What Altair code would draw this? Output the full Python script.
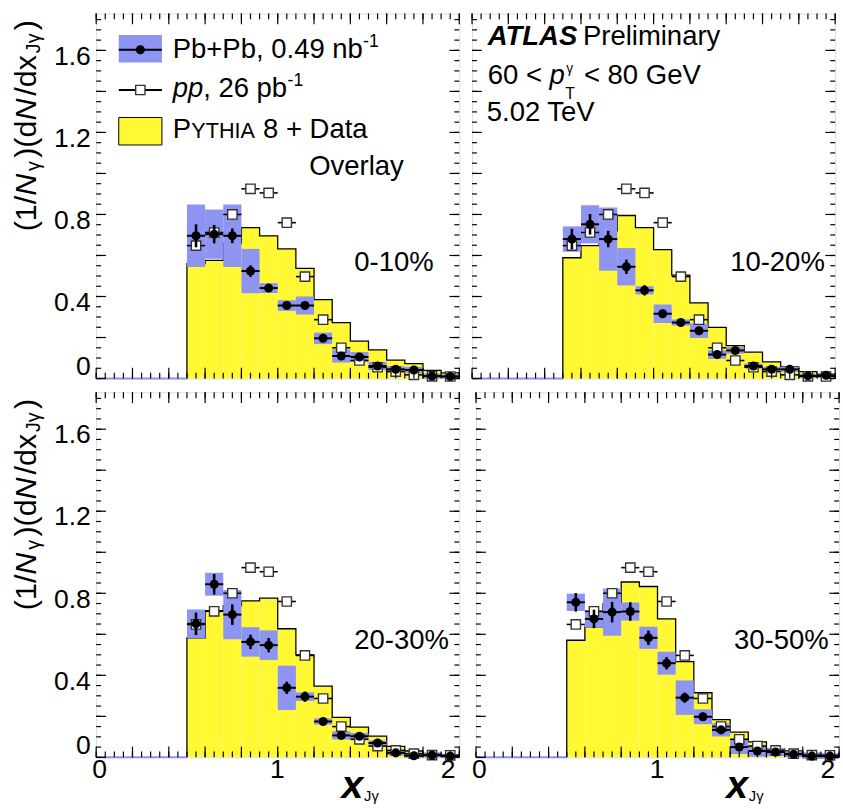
import altair as alt
import pandas as pd

FONT = "Liberation Sans"
YELLOW = "#FFF833"
BLUE = "#8E94F2"

# x_Jgamma binning (bin lower edges, width 0.1)
bin_lo = [0.5, 0.6, 0.7, 0.8, 0.9, 1.0, 1.1, 1.2, 1.3, 1.4, 1.5, 1.6, 1.7, 1.8, 1.9]
bin_width = 0.1

# pp reference, 26 pb^-1
pp_vals = [0.648, 0.712, 0.800, 0.925, 0.905, 0.760, 0.497, 0.287, 0.150, 0.088, 0.055, 0.034, 0.018, 0.011, 0.010]
pp_stat = [0.012, 0.012, 0.012, 0.014, 0.014, 0.012, 0.010, 0.008, 0.006, 0.005, 0.004, 0.003, 0.003, 0.002, 0.002]

# PYTHIA 8 + data overlay
pythia_0_10 = [0.560, 0.576, 0.660, 0.736, 0.696, 0.632, 0.537, 0.385, 0.273, 0.182, 0.140, 0.090, 0.073, 0.040, 0.028]
pythia_10_20 = [0.589, 0.648, 0.720, 0.795, 0.736, 0.629, 0.504, 0.369, 0.249, 0.161, 0.129, 0.081, 0.057, 0.034, 0.022]
pythia_20_30 = [0.583, 0.715, 0.740, 0.763, 0.776, 0.627, 0.500, 0.347, 0.195, 0.147, 0.103, 0.054, 0.031, 0.019, 0.010]
pythia_30_50 = [0.571, 0.636, 0.750, 0.855, 0.833, 0.675, 0.467, 0.315, 0.184, 0.123, 0.075, 0.042, 0.031, 0.019, 0.010]

# Pb+Pb, 0.49 nb^-1: value, statistical and systematic uncertainties
pbpb_0_10 = [0.696, 0.704, 0.696, 0.524, 0.441, 0.356, 0.356, 0.196, 0.110, 0.105, 0.061, 0.045, 0.042, 0.012, 0.010]
stat_0_10 = [0.056, 0.045, 0.036, 0.028, 0.018, 0.015, 0.018, 0.015, 0.015, 0.012, 0.012, 0.010, 0.010, 0.008, 0.008]
syst_0_10 = [0.152, 0.120, 0.152, 0.108, 0.024, 0.026, 0.044, 0.028, 0.032, 0.024, 0.020, 0.015, 0.015, 0.012, 0.010]

pbpb_10_20 = [0.680, 0.752, 0.680, 0.545, 0.430, 0.316, 0.273, 0.233, 0.117, 0.137, 0.061, 0.045, 0.045, 0.013, 0.016]
stat_10_20 = [0.050, 0.050, 0.040, 0.035, 0.025, 0.020, 0.020, 0.018, 0.015, 0.015, 0.012, 0.010, 0.010, 0.008, 0.008]
syst_10_20 = [0.062, 0.093, 0.154, 0.091, 0.020, 0.045, 0.015, 0.035, 0.021, 0.016, 0.012, 0.012, 0.012, 0.010, 0.010]

pbpb_20_30 = [0.651, 0.844, 0.696, 0.563, 0.547, 0.339, 0.296, 0.175, 0.107, 0.103, 0.070, 0.022, 0.008, 0.010, 0.006]
stat_20_30 = [0.055, 0.050, 0.050, 0.035, 0.035, 0.030, 0.025, 0.015, 0.015, 0.015, 0.012, 0.010, 0.010, 0.008, 0.008]
syst_20_30 = [0.070, 0.056, 0.120, 0.072, 0.072, 0.108, 0.021, 0.015, 0.020, 0.016, 0.012, 0.012, 0.010, 0.010, 0.010]

pbpb_30_50 = [0.756, 0.675, 0.708, 0.711, 0.583, 0.459, 0.291, 0.198, 0.134, 0.050, 0.031, 0.026, 0.015, 0.006, 0.006]
stat_30_50 = [0.045, 0.045, 0.050, 0.045, 0.035, 0.030, 0.025, 0.020, 0.015, 0.012, 0.010, 0.010, 0.008, 0.008, 0.008]
syst_30_50 = [0.042, 0.042, 0.115, 0.044, 0.054, 0.056, 0.084, 0.036, 0.032, 0.034, 0.028, 0.020, 0.014, 0.014, 0.014]

# axis labels and tick marks
x_labels_mid = [1]
x_labels_low = [0]
x_labels_high = [2]
y_labels_main = [0.4, 0.8, 1.2, 1.6]
y_labels_low = [0]
x_ticks_fine = [round(i * 0.05, 2) for i in range(41)]
x_ticks_coarse = [round(i * 0.2, 2) for i in range(11)]
y_ticks_fine = [round(i * 0.05, 2) for i in range(36)]
y_ticks_coarse = [round(i * 0.2, 2) for i in range(9)]

W, H = 370, 372
X_DOMAIN = [0, 2]
Y_DOMAIN = [0, 1.78]
LABEL_SIZE = 27

xs = alt.Scale(domain=X_DOMAIN, nice=False, zero=False)
ys = alt.Scale(domain=Y_DOMAIN, nice=False, zero=False)
one_row = pd.DataFrame({"k": [0]})

# approximate advance widths (em) used to chain the rotated title pieces
CHAR_W = {"(": 0.333, ")": 0.333, "1": 0.556, "/": 0.278, "N": 0.722,
          "d": 0.556, "x": 0.5, "J": 0.5, "γ": 0.52}


def txt(s, x, y, size=28, style="normal", weight="normal", angle=0, align="left"):
    return alt.Chart(pd.DataFrame({"s": [s]})).mark_text(
        font=FONT, fontSize=size, fontStyle=style, fontWeight=weight,
        angle=angle, align=align, baseline="alphabetic", color="black",
    ).encode(x=alt.value(x), y=alt.value(y), text="s:N")


def rect(x0, x1, y0, y1, fill, outline=False):
    kw = dict(fill=fill, opacity=1)
    if outline:
        kw.update(stroke="black", strokeWidth=1)
    return alt.Chart(one_row).mark_rect(**kw).encode(
        x=alt.value(x0), x2=alt.value(x1), y=alt.value(y0), y2=alt.value(y1))


def hline(x0, x1, y, width=2):
    return alt.Chart(one_row).mark_rule(color="black", strokeWidth=width).encode(
        x=alt.value(x0), x2=alt.value(x1), y=alt.value(y))


def x_axis(values, offset):
    return alt.Axis(
        values=values, format="d", title=None, grid=False, domain=False, orient="bottom",
        ticks=False, tickSize=0, labelFont=FONT, labelFontSize=LABEL_SIZE, labelColor="black",
        labelPadding=0, labelFlush=False, labelOffset=offset,
    )


def y_axis(values, offset):
    return alt.Axis(
        values=values, title=None, grid=False, domain=False, orient="left",
        ticks=False, tickSize=0, labelFont=FONT, labelFontSize=LABEL_SIZE, labelColor="black",
        labelPadding=6, labelFlush=False, labelOffset=offset,
        labelExpr="datum.value == 0 ? '0' : format(datum.value, '.1f')",
    )


def tick_layers(bottom_len=11, bottom_len_fine=6, side_len=10, side_len_fine=5):
    layers = []
    for vals, n in ((x_ticks_fine, bottom_len_fine), (x_ticks_coarse, bottom_len)):
        d = alt.Chart(pd.DataFrame({"t": vals}))
        xe = alt.X("t:Q", scale=xs, axis=None)
        layers.append(d.mark_rule(color="black", strokeWidth=1.2).encode(
            x=xe, y=alt.value(H), y2=alt.value(H - n)))
        layers.append(d.mark_rule(color="black", strokeWidth=1.2).encode(
            x=xe, y=alt.value(0), y2=alt.value(n)))
    for vals, n in ((y_ticks_fine, side_len_fine), (y_ticks_coarse, side_len)):
        d = alt.Chart(pd.DataFrame({"t": vals}))
        ye = alt.Y("t:Q", scale=ys, axis=None)
        layers.append(d.mark_rule(color="black", strokeWidth=1.2).encode(
            y=ye, x=alt.value(0), x2=alt.value(n)))
        layers.append(d.mark_rule(color="black", strokeWidth=1.2).encode(
            y=ye, x=alt.value(W), x2=alt.value(W - n)))
    return layers


def y_title(start=222):
    # (1/N_gamma)(dN/dx_Jgamma), read bottom to top
    F, S = 31, 20
    base_x, sub_x = -61, -57
    parts = [("(1/", F, "normal", 0), ("N", F, "italic", 3), ("γ", S, "normal", 3),
             (")(d", F, "normal", 0), ("N", F, "italic", 3), ("/d", F, "normal", 0),
             ("x", F, "normal", 2), ("Jγ", S, "normal", 3), (")", F, "normal", 0)]
    out, y = [], start
    for s, size, st, gap in parts:
        out.append(txt(s, sub_x if size == S else base_x, y, size=size, style=st, angle=270))
        y -= sum(CHAR_W[c] for c in s) * size + gap
    return out


def x_title(x0):
    return [
        txt("x", x0, 413, size=40, style="italic", weight="bold"),
        txt("Jγ", x0 + 23, 416, size=15),
    ]


def panel(cent, pythia, pbpb, stat, syst, bottom, left, extra):
    hi = [round(v + bin_width, 2) for v in bin_lo]
    mid = [round(v + bin_width / 2, 3) for v in bin_lo]
    df = pd.DataFrame({
        "lo": bin_lo, "hi": hi, "mid": mid, "py": pythia,
        "pb": pbpb, "stat": stat, "syst": syst, "pp": pp_vals, "ppstat": pp_stat,
    })
    df["box_lo"] = df["pb"] - df["syst"]
    df["box_hi"] = df["pb"] + df["syst"]
    df["err_lo"] = df["pb"] - df["stat"]
    df["err_hi"] = df["pb"] + df["stat"]
    df["pp_lo"] = df["pp"] - df["ppstat"]
    df["pp_hi"] = df["pp"] + df["ppstat"]

    def X(f, axis=None):
        return alt.X(f, scale=xs, axis=axis)

    def Y(f, axis=None):
        return alt.Y(f, scale=ys, axis=axis)

    base = alt.Chart(df)

    fill = base.mark_rect(color=YELLOW, strokeWidth=0).encode(
        x=X("lo:Q", x_axis(x_labels_mid, -1) if bottom else None), x2="hi:Q",
        y=Y("py:Q", y_axis(y_labels_main, 6) if left else None), y2=alt.datum(0))

    # stepped outline of the PYTHIA histogram
    px, py = [bin_lo[0]], [0.0]
    for a, b, v in zip(bin_lo, hi, pythia):
        px += [a, b]
        py += [v, v]
    px.append(hi[-1])
    py.append(0.0)
    outline = alt.Chart(pd.DataFrame({"x": px, "y": py, "k": list(range(len(px)))})).mark_line(
        color="black", strokeWidth=1.3).encode(
        x=X("x:Q", x_axis(x_labels_high, -12) if bottom else None), y=Y("y:Q"), order="k:Q")

    empty = alt.Chart(pd.DataFrame({"a": [0.0], "b": [bin_lo[0]], "z": [0.0]})).mark_rule(
        color=BLUE, strokeWidth=2).encode(x=X("a:Q"), x2="b:Q", y=Y("z:Q"))

    boxes = base.mark_rect(color=BLUE, opacity=1).encode(
        x=X("lo:Q", x_axis(x_labels_low, 3) if bottom else None), x2="hi:Q",
        y=Y("box_lo:Q", y_axis(y_labels_low, -12) if left else None), y2="box_hi:Q")

    pp_h = base.mark_rule(color="black", strokeWidth=1.6).encode(x=X("lo:Q"), x2="hi:Q", y=Y("pp:Q"))
    pp_v = base.mark_rule(color="black", strokeWidth=1.6).encode(x=X("mid:Q"), y=Y("pp_lo:Q"), y2="pp_hi:Q")
    pp_pt = base.mark_point(shape="square", filled=True, fill="white", stroke="#333333",
                            strokeWidth=1.4, size=90, opacity=1).encode(x=X("mid:Q"), y=Y("pp:Q"))

    pb_h = base.mark_rule(color="black", strokeWidth=2).encode(x=X("lo:Q"), x2="hi:Q", y=Y("pb:Q"))
    pb_v = base.mark_rule(color="black", strokeWidth=2.6).encode(x=X("mid:Q"), y=Y("err_lo:Q"), y2="err_hi:Q")
    pb_pt = base.mark_point(shape="circle", filled=True, color="black", size=85, opacity=1).encode(
        x=X("mid:Q"), y=Y("pb:Q"))

    layers = [fill, outline, empty, boxes, pp_h, pp_v, pp_pt, pb_h, pb_v, pb_pt]
    layers += tick_layers()
    layers.append(txt(cent, 263, 262))
    layers += extra
    if left:
        layers += y_title()
    return alt.layer(*layers).resolve_axis(x="independent", y="independent").properties(width=W, height=H)


legend = [
    rect(23, 67, 22, 50, BLUE),
    hline(23, 67, 37),
    alt.Chart(one_row).mark_point(shape="circle", filled=True, color="black", size=85, opacity=1).encode(
        x=alt.value(45), y=alt.value(37)),
    txt("Pb+Pb, 0.49 nb", 78, 45),
    txt("-1", 272, 34, size=18),
    hline(23, 67, 78),
    alt.Chart(one_row).mark_point(shape="square", filled=True, fill="white", stroke="#333333",
                                  strokeWidth=1.4, size=90, opacity=1).encode(
        x=alt.value(45), y=alt.value(78)),
    txt("pp", 78, 85, style="italic"),
    txt(", 26 pb", 109, 85),
    txt("-1", 195, 74, size=18),
    rect(23, 67, 106, 134, YELLOW, outline=True),
    txt("P", 78, 127),
    txt("YTHIA", 97, 127, size=22),
    txt("8 + Data", 170, 127),
    txt("Overlay", 217, 165),
]

atlas = [
    txt("ATLAS", 16, 32, style="italic", weight="bold"),
    txt("Preliminary", 113, 32),
    txt("60 <", 16, 72),
    txt("p", 79, 72, style="italic"),
    txt("T", 95, 87, size=16),
    txt("γ", 96, 61, size=14),
    txt("< 80 GeV", 114, 72),
    txt("5.02 TeV", 15, 110),
]

tl = panel("0-10%", pythia_0_10, pbpb_0_10, stat_0_10, syst_0_10, False, True, legend)
tr = panel("10-20%", pythia_10_20, pbpb_10_20, stat_10_20, syst_10_20, False, False, atlas)
bl = panel("20-30%", pythia_20_30, pbpb_20_30, stat_20_30, syst_20_30, True, True, x_title(250))
br = panel("30-50%", pythia_30_50, pbpb_30_50, stat_30_50, syst_30_50, True, False, x_title(255))

chart = alt.vconcat(
    alt.hconcat(tl, tr, spacing=7),
    alt.hconcat(bl, br, spacing=7),
    spacing=6,
).properties(
    padding={"left": 11, "top": 4, "right": 0, "bottom": 0},
).configure_view(
    stroke="black", strokeWidth=1.6,
).configure(background="white")

chart.save("out.html", embed_options={"renderer": "svg", "actions": False})
